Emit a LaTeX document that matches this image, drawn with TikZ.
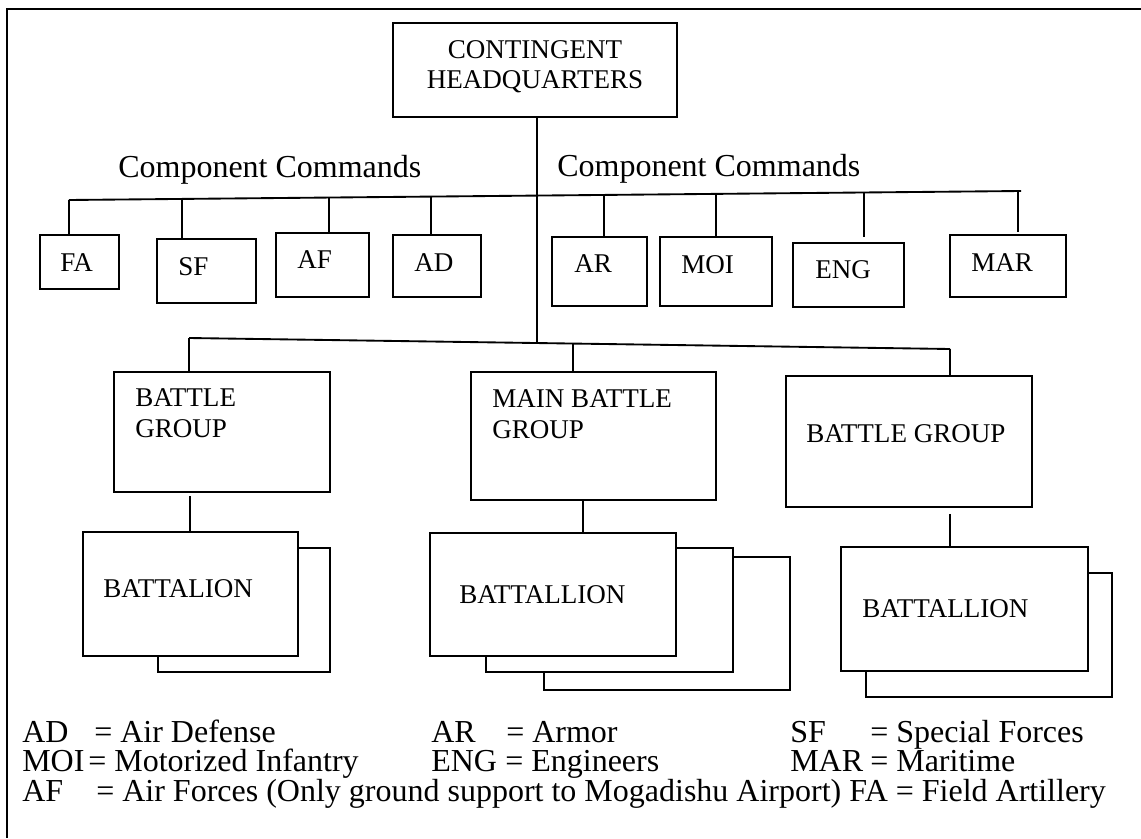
\documentclass[tikz,border=0pt]{standalone}
\usepackage{fontspec}
\setmainfont{Liberation Serif}
\usetikzlibrary{fit}
\begin{document}
\begin{tikzpicture}[x=0.75pt,y=-0.75pt,
  box/.style={draw,line width=1.3pt,inner sep=0pt,fill=white},
  conn/.style={line width=1.4pt},
  frameline/.style={line width=1.6pt},
  lbl/.style={anchor=base west,inner sep=0pt,font=\fontsize{20.3}{24}\selectfont},
  lblc/.style={anchor=base,inner sep=0pt,font=\fontsize{20.3}{24}\selectfont},
  big/.style={anchor=base west,inner sep=0pt,font=\fontsize{24}{28}\selectfont}]
\useasboundingbox (0,0) rectangle (1141,838);
% frame (top and left edges only)
\coordinate (frTL) at (7,9);
\coordinate (frTR) at (1141,9);
\coordinate (frBL) at (7,838);
\draw[frameline] (frTR) -- (frTL) -- (frBL);

% headquarters
\node[box, fit={(393,23) (677,117)}] (hq) {};
\node[lblc] (hq1) at (535,59) {CONTINGENT};
\node[lblc] (hq2) at (535,89) {HEADQUARTERS};

% buses
\coordinate (tbL) at (69,200);
\coordinate (tbR) at (1021,191);
\coordinate (bbL) at (189,338);
\coordinate (bbR) at (950,349);
\coordinate (bbHQ) at (537,343);
\draw[conn] (tbL) -- (tbR);
\draw[conn] (bbL) -- (bbR);
\draw[conn] (hq.south -| bbHQ) -- (bbHQ);

% component command labels
\node[big] (cc1) at (118,177) {Component Commands};
\node[big] (cc2) at (557,176) {Component Commands};

% component boxes
\node[box, fit={(40,235) (119,289)}] (fa) {};
\node[box, fit={(157,239) (256,303)}] (sf) {};
\node[box, fit={(276,233) (369,297)}] (af) {};
\node[box, fit={(393,235) (481,297)}] (ad) {};
\node[box, fit={(552,237) (647,306)}] (ar) {};
\node[box, fit={(660,237) (772,306)}] (moi) {};
\node[box, fit={(793,243) (904,307)}] (eng) {};
\node[box, fit={(950,235) (1066,297)}] (mar) {};
\node[lbl] (faT) at (60,271) {FA};
\node[lbl] (sfT) at (178,275) {SF};
\node[lbl] (afT) at (297,268) {AF};
\node[lbl] (adT) at (414,271) {AD};
\node[lbl] (arT) at (574,272) {AR};
\node[lbl] (moiT) at (681,273) {MOI};
\node[lbl] (engT) at (815,278) {ENG};
\node[lbl] (marT) at (971,271) {MAR};

% connector tops on the top bus
\coordinate (cFA) at (69,200);
\coordinate (cSF) at (182,199);
\coordinate (cAF) at (329,197.5);
\coordinate (cAD) at (431,196.6);
\coordinate (cAR) at (604,195);
\coordinate (cMOI) at (716,194);
\coordinate (cENG) at (864,192.5);
\coordinate (cMAR) at (1018,191);
\draw[conn] (cFA) -- (fa.north -| cFA);
\draw[conn] (cSF) -- (sf.north -| cSF);
\draw[conn] (cAF) -- (af.north -| cAF);
\draw[conn] (cAD) -- (ad.north -| cAD);
\draw[conn] (cAR) -- (ar.north -| cAR);
\draw[conn] (cMOI) -- (moi.north -| cMOI);
\draw[conn, shorten >=3.75pt] (cENG) -- (eng.north -| cENG);
\draw[conn, shorten >=1.5pt] (cMAR) -- (mar.north -| cMAR);

% battle groups
\node[box, fit={(114,372) (330,492)}] (bgL) {};
\node[box, fit={(471,372) (716,500)}] (bgM) {};
\node[box, fit={(786,376) (1032,507)}] (bgR) {};
\node[lbl] (bgL1) at (135,406) {BATTLE};
\node[lbl] (bgL2) at (135,437) {GROUP};
\node[lbl] (bgM1) at (492,407) {MAIN BATTLE};
\node[lbl] (bgM2) at (492,438) {GROUP};
\node[lbl] (bgR1) at (806,442) {BATTLE GROUP};

% connectors from bottom bus
\coordinate (cBL) at (189,338);
\coordinate (cBM) at (573,343.5);
\coordinate (cBR) at (950,349);
\draw[conn] (cBL) -- (bgL.north -| cBL);
\draw[conn] (cBM) -- (bgM.north -| cBM);
\draw[conn] (cBR) -- (bgR.north -| cBR);

% battalions (back to front)
\node[box, fit={(158,548) (330,672)}] (batL2) {};
\node[box, fit={(83,532) (298,656)}] (batL1) {};
\node[box, fit={(544,557) (790,690)}] (batM3) {};
\node[box, fit={(486,548) (733,672)}] (batM2) {};
\node[box, fit={(430,533) (676,656)}] (batM1) {};
\node[box, fit={(866,573) (1112,697)}] (batR2) {};
\node[box, fit={(841,547) (1088,671)}] (batR1) {};
\node[lbl] (batLT) at (103,597) {BATTALION};
\node[lbl] (batMT) at (459,603) {BATTALLION};
\node[lbl] (batRT) at (862,617) {BATTALLION};

% battle group to battalion connectors
\coordinate (xL) at (190,0);
\coordinate (xM) at (583,0);
\coordinate (xR) at (950,0);
\draw[conn, shorten <=2.25pt] (bgL.south -| xL) -- (batL1.north -| xL);
\draw[conn] (bgM.south -| xM) -- (batM1.north -| xM);
\draw[conn, shorten <=4.5pt] (bgR.south -| xR) -- (batR1.north -| xR);

% legend
\node[big] (lg1a) at (22,742) {AD};
\node[big] (lg1b) at (94,742) {= Air Defense};
\node[big] (lg1c) at (431,742) {AR};
\node[big] (lg1d) at (506,742) {= Armor};
\node[big] (lg1e) at (790,742) {SF};
\node[big] (lg1f) at (870,742) {= Special Forces};
\node[big] (lg2a) at (22,771.5) {MOI};
\node[big] (lg2b) at (88,771.5) {= Motorized Infantry};
\node[big] (lg2c) at (431,771.5) {ENG};
\node[big] (lg2d) at (505,771.5) {= Engineers};
\node[big] (lg2e) at (790,771.5) {MAR};
\node[big] (lg2f) at (870,771.5) {= Maritime};
\node[big] (lg3a) at (22,801) {AF};
\node[big] (lg3b) at (96,801) {= Air Forces (Only ground support to Mogadishu Airport) FA = Field Artillery};
\end{tikzpicture}
\end{document}
